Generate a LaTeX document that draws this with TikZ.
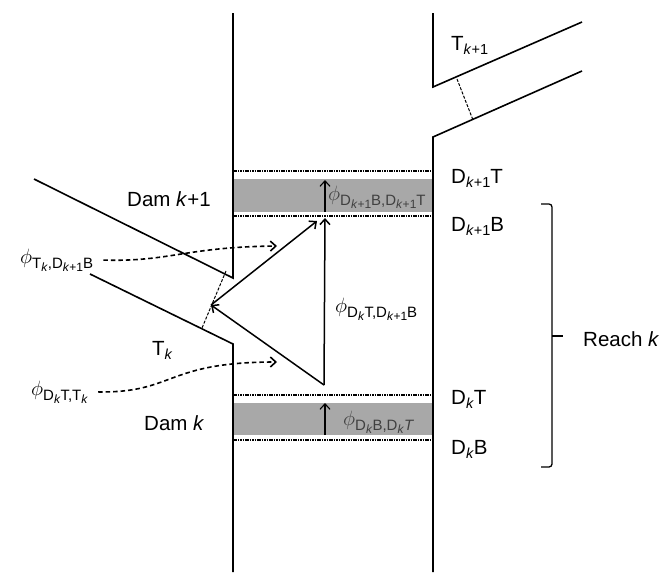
\documentclass[tikz,border=0pt]{standalone}
\usepackage{fontspec}
\setmainfont{Liberation Sans}
\usetikzlibrary{arrows.meta}

\definecolor{bandgray}{HTML}{A8A8A8}
\definecolor{bandtext}{HTML}{404040}

% lowered index for the reach labels, and for the flux labels
\newcommand{\lowi}[1]{\raisebox{-4pt}{\fontsize{14.5}{14}\selectfont #1}}
\newcommand{\phsub}[1]{{\fontsize{21}{24}\selectfont$\phi$}\raisebox{-5pt}{\fontsize{15}{15}\selectfont #1}}
\newcommand{\kk}[1]{\raisebox{-3pt}{\fontsize{12}{12}\selectfont #1}}

\begin{document}
\begin{tikzpicture}[x=1pt, y=-1pt,
  >={Straight Barb[length=5.5pt, width=10pt]},
  bank/.style={line width=1.6pt},
  level/.style={line width=1.5pt, dash pattern=on 1.6pt off 0.8pt},
  cut/.style={line width=1pt, dash pattern=on 3pt off 1.5pt},
  flow/.style={->, line width=1.5pt},
  link/.style={->, line width=1.6pt, dash pattern=on 4.5pt off 3pt, shorten <=10pt},
  lbl/.style={anchor=base west, inner sep=0pt, font=\fontsize{20.5}{24}\selectfont},
  phlbl/.style={anchor=base west, inner sep=0pt, font=\fontsize{17}{20}\selectfont},
]

% Background
\useasboundingbox (0,0) rectangle (667,574);
\fill[white] (0,0) rectangle (667,574);

% Dam bands
\fill[bandgray] (233,179) rectangle (433,212);
\fill[bandgray] (233,403) rectangle (433,435);
\draw[level] (233,171) -- (433,171);
\draw[level] (233,216) -- (433,216);
\draw[level] (233,395) -- (433,395);
\draw[level] (233,440) -- (433,440);

% Main channel and tributaries
\draw[bank] (34,179) -- (233,278) -- (233,13);
\draw[bank] (90,274) -- (233,344) -- (233,572);
\draw[bank] (433,13) -- (433,87) -- (582,22);
\draw[bank] (582,71) -- (433,137) -- (433,572);

% Tributary junction cuts
\draw[cut] (226,271) -- (202,328);
\draw[cut] (457,79) -- (473,120);

% Flux arrows
\coordinate (bot) at (324,385);
\coordinate (mid) at (211,305);
\coordinate (topa) at (317,221);
\coordinate (topb) at (325,218);
\draw[flow] (bot) -- (mid);
\draw[flow] (mid) -- (topa);
\draw[flow] (bot) -- (topb);

\coordinate (ua) at (325,212);
\coordinate (ub) at (325,180);
\coordinate (la) at (325,435);
\coordinate (lb) at (325,403);
\draw[flow, line width=1.1pt] (ua) -- (ub);
\draw[flow, line width=1.1pt] (la) -- (lb);

% Labels
\node[lbl] (dam1) at (127,206) {Dam \textit{k}+1};
\node[lbl] (dam0) at (144,430) {Dam \textit{k}};
\node[lbl] (tk) at (152,355) {T\lowi{\textit{k}}};
\node[lbl] (tk1) at (451,50) {T\lowi{\textit{k}+1}};
\node[lbl] (d1t) at (451,183) {D\lowi{\textit{k}+1}T};
\node[lbl] (d1b) at (451,231) {D\lowi{\textit{k}+1}B};
\node[lbl] (d0t) at (451,404) {D\lowi{\textit{k}}T};
\node[lbl] (d0b) at (451,454) {D\lowi{\textit{k}}B};
\node[lbl] (reach) at (583,346) {Reach \textit{k}};

\node[phlbl] (phtd) at (20,263) {\phsub{T\kk{\textit{k}},D\kk{\textit{k}+1}B}};
\node[phlbl] (phdt) at (31,395) {\phsub{D\kk{\textit{k}}T,T\kk{\textit{k}}}};
\node[phlbl] (phdd) at (335,312) {\phsub{D\kk{\textit{k}}T,D\kk{\textit{k}+1}B}};
\node[phlbl, text=bandtext] (phup) at (328,200) {\phsub{D\kk{\textit{k}+1}B,D\kk{\textit{k}+1}T}};
\node[phlbl, text=bandtext] (phlo) at (343,425) {\phsub{D\kk{\textit{k}}B,D\kk{\textit{k}}\textit{T}}};

% Dashed links from labels
\coordinate (e1) at (277,246);
\coordinate (e2) at (277,362);
\draw[link] (phtd.east) .. controls (170,262) and (185,247) .. (e1);
\draw[link] (phdt.east) .. controls (175,393) and (165,362) .. (e2);

% Reach bracket
\draw[line width=1.3pt, rounded corners=3pt] (541,204) -- (552,204) -- (552,467) -- (541,467);
\draw[line width=1.3pt] (552,336) -- (563,336);

\end{tikzpicture}
\end{document}
